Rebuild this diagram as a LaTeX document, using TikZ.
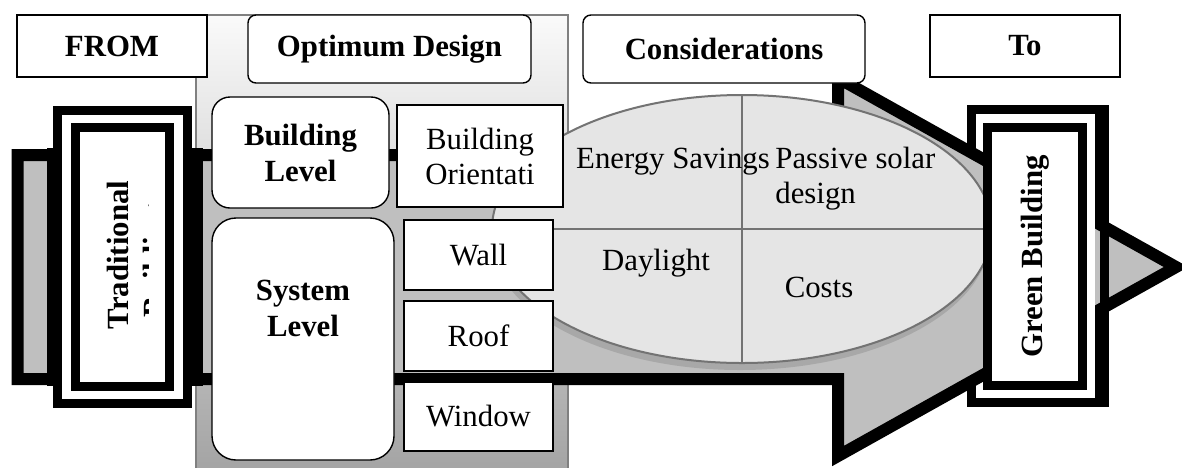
\documentclass[tikz,border=0pt]{standalone}
\usepackage{fontspec}
\setmainfont{Liberation Serif}
\usetikzlibrary{shapes.geometric,shadows}

\begin{document}
\begin{tikzpicture}[x=0.5pt,y=-0.5pt,
  txt/.style={font=\fontsize{15.4}{17.5}\selectfont,inner sep=0pt},
  btxt/.style={font=\fontsize{15.4}{18}\selectfont\bfseries,inner sep=0pt},
  sqbox/.style={draw,fill=white,line width=0.7pt,inner sep=0pt,align=center},
  rbox/.style={sqbox,rounded corners=#1},
  frame/.style={draw,fill=white,line width=4.5pt,inner sep=0pt},
  divider/.style={black!55,line width=0.8pt}]
  \useasboundingbox (0,0) rectangle (1182,467);
  % optimum design panel
  \shade[top color=gray!4,bottom color=gray!72,draw=gray,line width=0.6pt]
    (196,15) rectangle (568,474);
  % green building, outer frame (below the arrow)
  \node[frame,minimum width=64pt,minimum height=146.5pt] (gbout) at (1035.5,256) {};
  % big arrow
  \coordinate (tail1) at (17.5,155);
  \coordinate (tail2) at (17.5,379);
  \coordinate (neck1) at (838,155);
  \coordinate (neck2) at (838,379);
  \coordinate (head1) at (838,78);
  \coordinate (head2) at (838,456);
  \coordinate (tip)   at (1176,267);
  \draw[line width=6pt,fill=gray!50]
    (tail1) -- (neck1) -- (head1) -- (tip) -- (head2) -- (neck2) -- (tail2) -- cycle;
  % traditional building
  \fill (47,148) rectangle (203,386);
  \node[frame,minimum width=65pt,minimum height=146.5pt] (tbout) at (122.5,257) {};
  \node[frame,minimum width=47pt,minimum height=129.5pt] (tbin) at (122.5,257) {};
  \begin{scope}
    \clip (80,132) rectangle (148,382);
    \node[btxt,rotate=90,align=center] (tbtxt) at (139.5,255) {Traditional\\Buildings};
  \end{scope}
  % considerations
  \node[ellipse,draw=black!55,line width=1pt,fill=gray!20,inner sep=0pt,
        minimum width=250pt,minimum height=134pt,
        drop shadow={shadow xshift=-1pt,shadow yshift=-3.5pt,fill=gray!68,opacity=1}]
        (cons) at (742,229) {};
  \draw[divider] (cons.north) -- (cons.south);
  \draw[divider] (cons.west) -- (cons.east);
  \node[txt,anchor=base] (esave) at (673,168) {Energy Savings};
  \node[txt,anchor=west,align=left] (psolar) at (775,178.4) {Passive solar\\design};
  \node[txt,anchor=base] (dlight) at (656,270) {Daylight};
  \node[txt,anchor=base] (costs) at (819,297) {Costs};
  % green building, right edge and inner frame
  \fill[white] (1087,114) rectangle (1095,398);
  \draw[line width=4.5pt] (gbout.north east) -- (gbout.south east);
  \node[frame,minimum width=47.5pt,minimum height=129pt] (gbin) at (1035,256.5) {};
  \node[btxt,rotate=90] (gbtxt) at (gbin) {Green Building};
  % headings
  \node[sqbox,btxt,minimum width=95pt,minimum height=31pt] (from) at (112,46) {FROM};
  \node[rbox=4pt,btxt,minimum width=141.5pt,minimum height=34pt] (optim) at (389.5,49) {Optimum Design};
  \node[rbox=4pt,btxt,minimum width=141pt,minimum height=34pt] (consh) at (724,49) {Considerations};
  \node[sqbox,btxt,minimum width=95pt,minimum height=31pt] (to) at (1025,46) {To};
  % levels
  \node[rbox=9pt,btxt,minimum width=88.5pt,minimum height=55.5pt] (blevel) at (300.5,152.5) {Building\\Level};
  \node[rbox=12pt,minimum width=91pt,minimum height=121pt] (slevel) at (303,339) {};
  \node[btxt,align=center] (sltxt) at (303,308) {System\\Level};
  % design items
  \node[sqbox,txt,minimum width=83pt,minimum height=51pt] (orient) at (480,156) {Building\\Orientati};
  \node[sqbox,txt,minimum width=74.5pt,minimum height=35pt] (wall) at (478.5,255) {Wall};
  \node[sqbox,txt,minimum width=74.5pt,minimum height=35pt] (roof) at (478.5,336) {Roof};
  \node[sqbox,txt,minimum width=74.5pt,minimum height=34.5pt] (window) at (478.5,416.5) {Window};
\end{tikzpicture}
\end{document}
